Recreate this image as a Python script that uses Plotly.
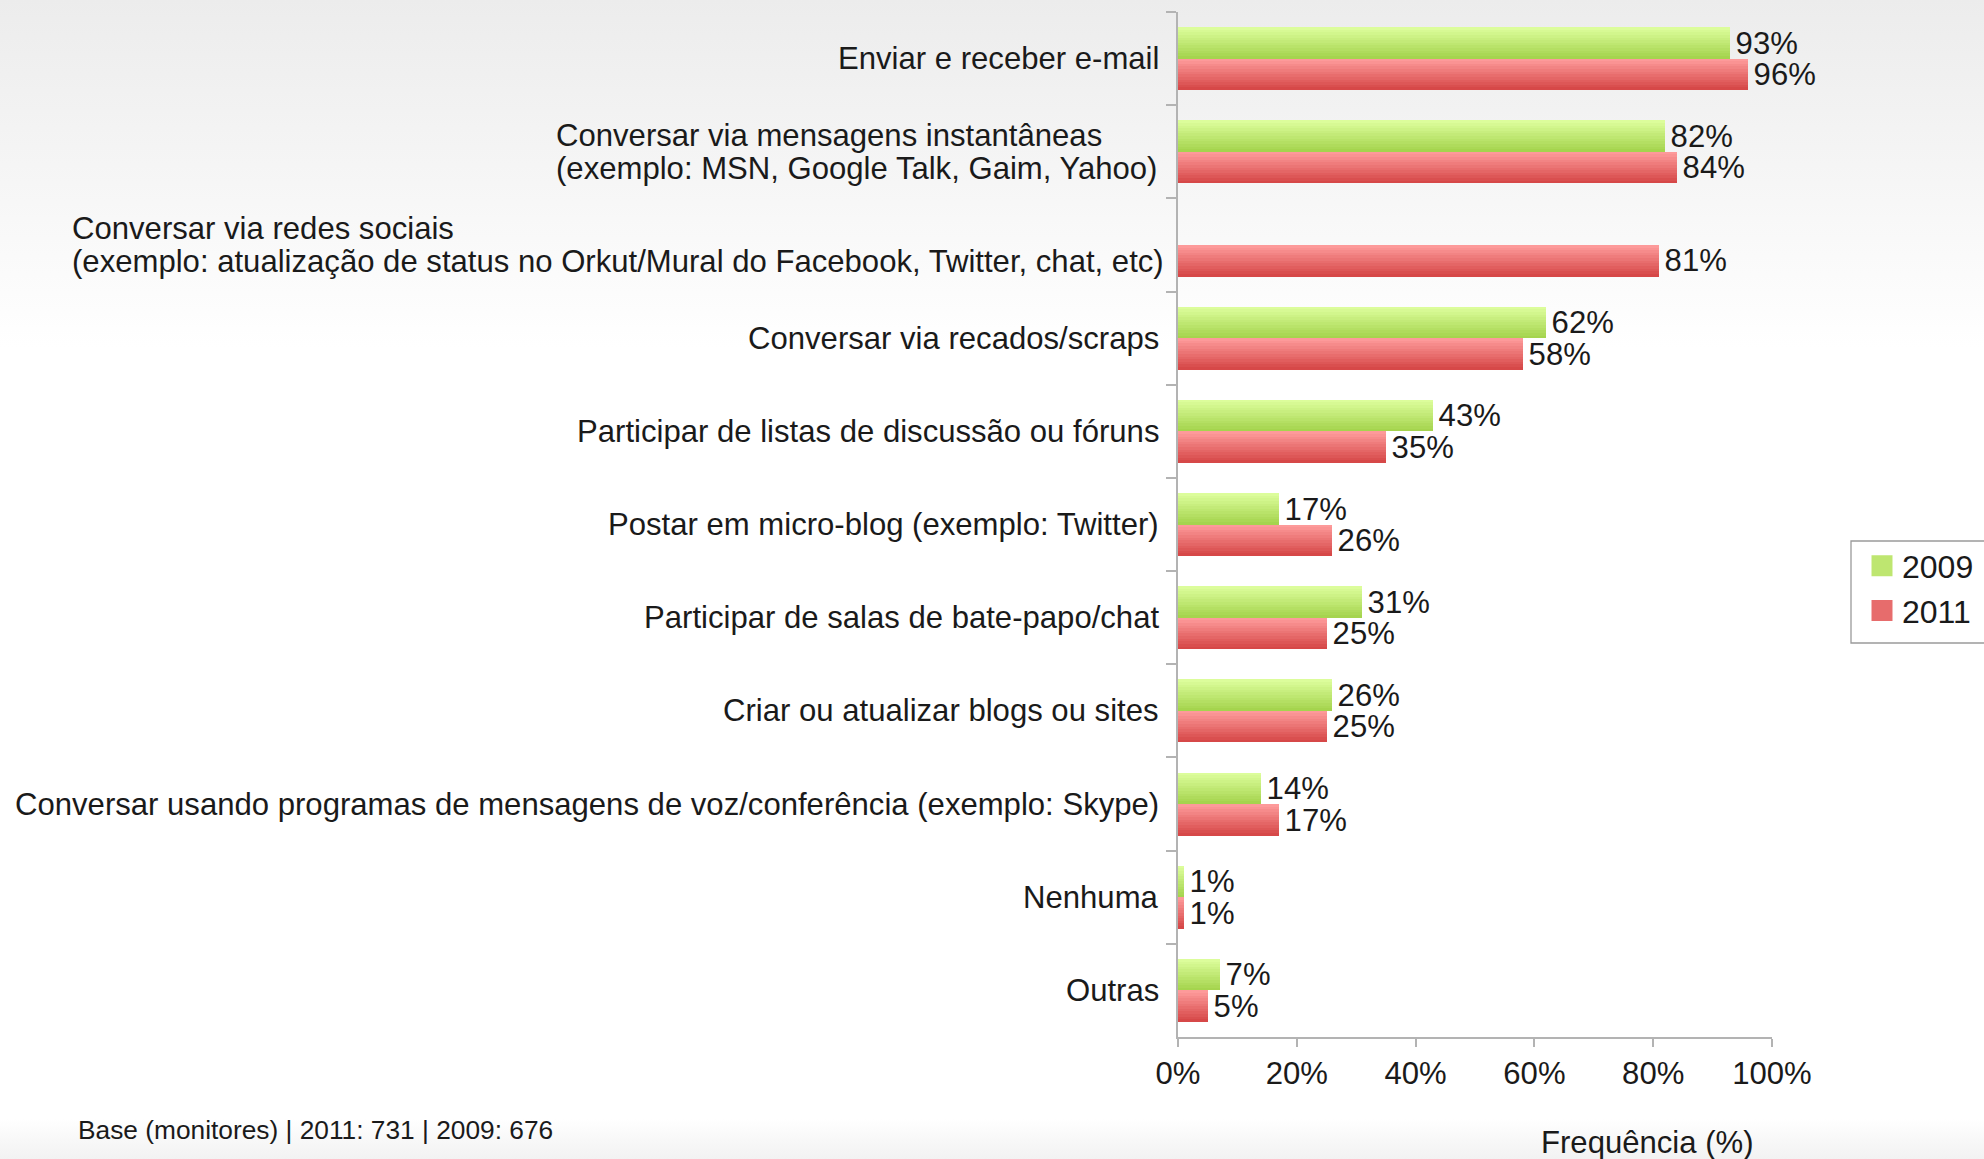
import base64
import plotly.graph_objects as go

# ---------------- data ----------------
categories = [
    "Enviar e receber e-mail",
    "Conversar via mensagens instantâneas<br>(exemplo: MSN, Google Talk, Gaim, Yahoo)",
    "Conversar via redes sociais<br>(exemplo: atualização de status no Orkut/Mural do Facebook, Twitter, chat, etc)",
    "Conversar via recados/scraps",
    "Participar de listas de discussão ou fóruns",
    "Postar em micro-blog (exemplo: Twitter)",
    "Participar de salas de bate-papo/chat",
    "Criar ou atualizar blogs ou sites",
    "Conversar usando programas de mensagens de voz/conferência (exemplo: Skype)",
    "Nenhuma",
    "Outras",
]
values_2009 = [93, 82, None, 62, 43, 17, 31, 26, 14, 1, 7]
values_2011 = [96, 84, 81, 58, 35, 26, 25, 25, 17, 1, 5]
series_names = ["2009", "2011"]
x_ticks = [0, 20, 40, 60, 80, 100]
x_title = "Frequência (%)"
footnote = "Base (monitores) | 2011: 731 | 2009: 676"

# ---------------- style ----------------
FONT = "Liberation Sans, Arial, sans-serif"
TXT = "#1a1a1a"
FS = 31.1
AXIS_COL = "#b3b3b3"
GREEN_TOP, GREEN_BOT = (222, 255, 158), (163, 210, 75)
RED_TOP, RED_BOT = (255, 158, 158), (212, 68, 68)
BAR_W = 0.338
N_SLICES = 12

L, R, T, B = 1178, 212, 12, 122
PW, PH = 1984 - L - R, 1159 - T - B
# left edge (page px) of the two-line label blocks
MULTILINE_LEFT = {1: 554.0, 2: 69.5}
LINE_OFFSET = 16.5


def mix(c1, c2, t):
    return "rgb(%d,%d,%d)" % tuple(round(a + (b - a) * t) for a, b in zip(c1, c2))


def px_x(p):
    return (p - L) / PW


def px_y(p):
    return ((T + PH) - p) / PH


fig = go.Figure()

series = [
    (series_names[0], values_2009, GREEN_TOP, GREEN_BOT, -BAR_W),
    (series_names[1], values_2011, RED_TOP, RED_BOT, 0.0),
]

for name, vals, ctop, cbot, off0 in series:
    sw = BAR_W / N_SLICES
    for k in range(N_SLICES):
        fig.add_trace(go.Bar(
            y=categories, x=vals, orientation="h",
            offset=off0 + k * sw, width=sw * 1.02,
            marker=dict(color=mix(ctop, cbot, (k + 0.5) / N_SLICES), line=dict(width=0)),
            showlegend=False, hoverinfo="skip", name=name,
        ))
    # transparent bar carrying the value labels
    fig.add_trace(go.Bar(
        y=categories, x=vals, orientation="h",
        offset=off0, width=BAR_W,
        marker=dict(color="rgba(0,0,0,0)", line=dict(width=0)),
        text=[("\u200a%d%%" % v) if v is not None else "" for v in vals],
        textposition="outside", constraintext="none", cliponaxis=False,
        textfont=dict(family=FONT, size=FS, color=TXT),
        showlegend=False, name=name,
    ))
    # legend entry
    col = mix(ctop, cbot, 0.55)
    fig.add_trace(go.Scatter(
        x=[None], y=[None], mode="markers", name=name,
        marker=dict(symbol="square", size=16, color=col, line=dict(width=5, color=col)),
        showlegend=True,
    ))

# category labels (block right-aligned, lines left-aligned)
annotations = []
for i, c in enumerate(categories):
    lines = c.split("<br>")
    if len(lines) == 1:
        annotations.append(dict(
            x=0, xref="paper", y=c, yref="y", text=c, showarrow=False,
            xanchor="right", xshift=-17,
            font=dict(family=FONT, size=FS, color=TXT),
        ))
    else:
        n = len(lines)
        for j, line in enumerate(lines):
            ys = LINE_OFFSET * (n - 1 - 2 * j)
            annotations.append(dict(
                x=px_x(MULTILINE_LEFT[i]), xref="paper", y=c, yref="y",
                text=line, showarrow=False, xanchor="left", yshift=ys,
                font=dict(family=FONT, size=FS, color=TXT),
            ))

# axis title and footnote
annotations.append(dict(
    x=0.791, y=-0.103, xref="paper", yref="paper", text=x_title, showarrow=False,
    xanchor="center", yanchor="middle", font=dict(family=FONT, size=FS, color=TXT),
))
annotations.append(dict(
    x=px_x(76), y=-0.091, xref="paper", yref="paper", text=footnote, showarrow=False,
    xanchor="left", yanchor="middle", font=dict(family=FONT, size=26.3, color=TXT),
))

# page background gradient (svg image)
svg = (
    '<svg xmlns="http://www.w3.org/2000/svg" width="1984" height="1159" preserveAspectRatio="none">'
    '<defs><linearGradient id="g" x1="0" y1="0" x2="0" y2="1">'
    '<stop offset="0" stop-color="#ececec"/>'
    '<stop offset="0.30" stop-color="#ffffff"/>'
    '<stop offset="0.965" stop-color="#ffffff"/>'
    '<stop offset="1" stop-color="#f2f2f2"/>'
    '</linearGradient></defs>'
    '<rect x="0" y="0" width="1984" height="1159" fill="url(#g)"/></svg>'
)
svg_uri = "data:image/svg+xml;base64," + base64.b64encode(svg.encode()).decode()

# legend frame (runs off the right edge, as in the source)
legend_frame = dict(
    type="rect", xref="paper", yref="paper",
    x0=px_x(1851), x1=px_x(2010), y0=px_y(643), y1=px_y(541),
    line=dict(color="#9a9a9a", width=1.3), fillcolor="white", layer="above",
)

fig.update_layout(
    width=1984, height=1159,
    margin=dict(l=L, r=R, t=T, b=B, pad=0, autoexpand=False),
    paper_bgcolor="white", plot_bgcolor="rgba(0,0,0,0)",
    barmode="overlay", bargap=0,
    font=dict(family=FONT, size=FS, color=TXT),
    annotations=annotations,
    shapes=[legend_frame],
    images=[dict(
        source=svg_uri, xref="paper", yref="paper",
        x=-L / PW, y=1 + T / PH, sizex=1984 / PW, sizey=1159 / PH,
        xanchor="left", yanchor="top", sizing="stretch", layer="below",
    )],
    legend=dict(
        x=px_x(1862), y=px_y(538.5), xanchor="left", yanchor="top",
        bgcolor="rgba(0,0,0,0)", borderwidth=0,
        font=dict(family=FONT, size=32, color=TXT),
        itemsizing="trace", tracegroupgap=0,
    ),
    showlegend=True,
)

fig.update_xaxes(
    range=[0, 100], tickvals=x_ticks, ticktext=["%d%%" % t for t in x_ticks],
    showgrid=False, zeroline=False, showline=True, linecolor=AXIS_COL, linewidth=1.5,
    ticks="outside", ticklen=8, tickcolor=AXIS_COL, tickwidth=1.5,
    tickfont=dict(family=FONT, size=FS, color=TXT), automargin=False,
)
fig.update_yaxes(
    type="category", categoryorder="array", categoryarray=categories,
    range=[len(categories) - 0.5, -0.5],
    showgrid=False, zeroline=False, showline=True, linecolor=AXIS_COL, linewidth=1.5,
    ticks="outside", ticklen=10, tickcolor=AXIS_COL, tickwidth=1.5, tickson="boundaries",
    showticklabels=False, automargin=False,
)

fig.write_html(
    "out.html",
    config={"displayModeBar": False},
    post_script="document.body.style.margin='0';document.body.style.overflow='hidden';",
)
